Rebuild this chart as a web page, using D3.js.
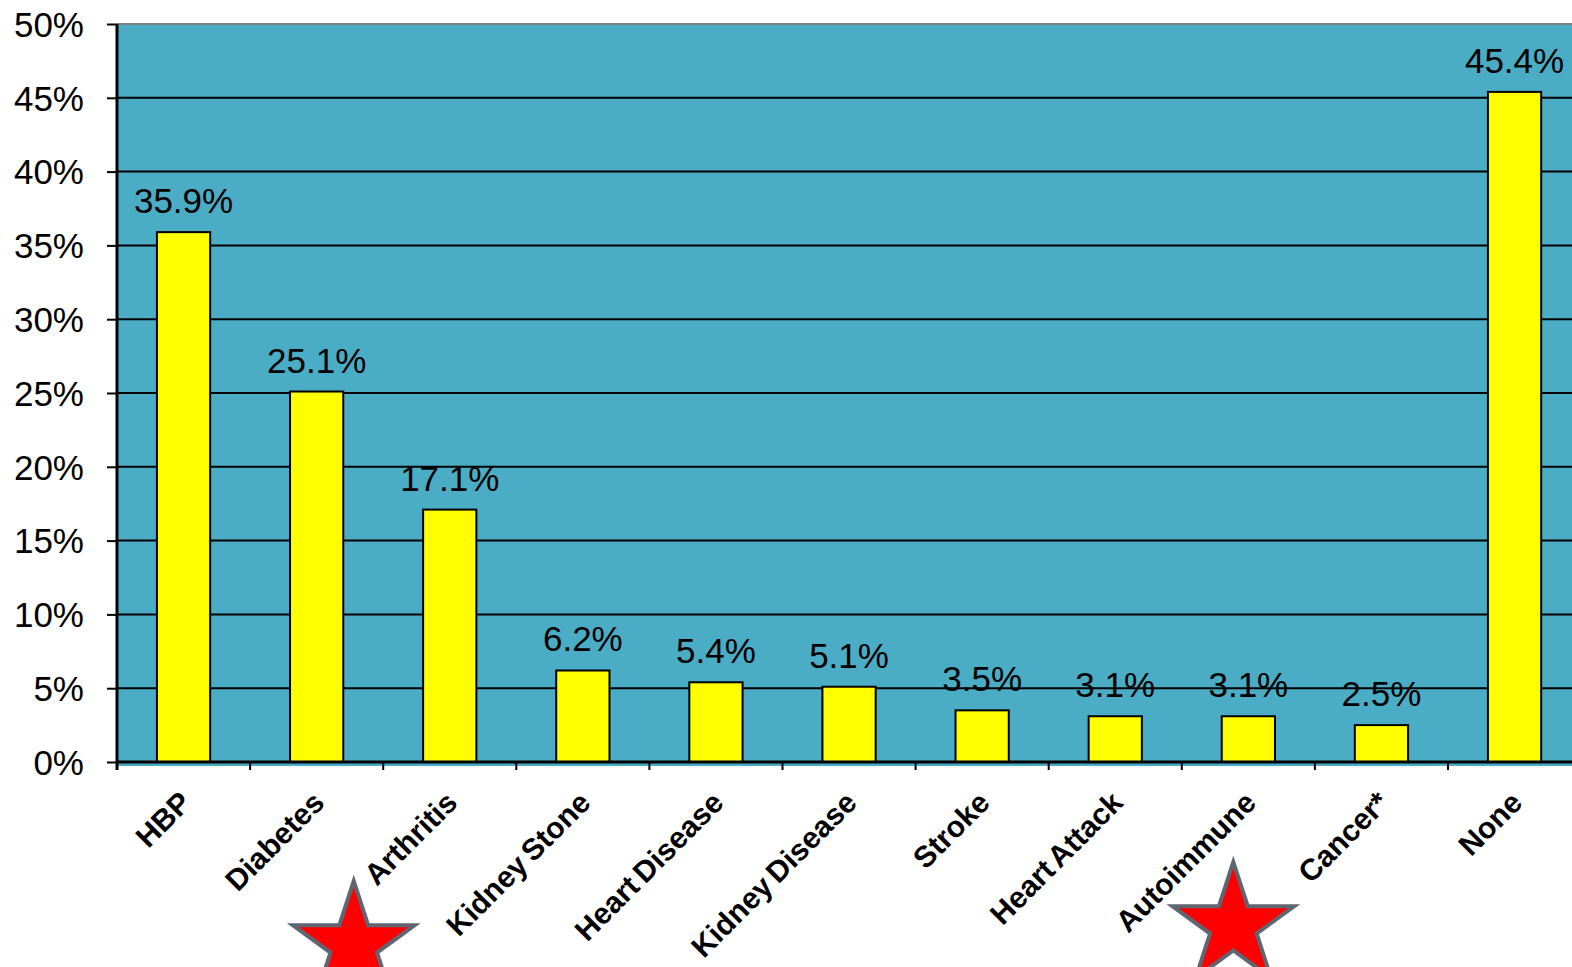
<!DOCTYPE html>
<html>
<head>
<meta charset="utf-8">
<script src="https://cdn.jsdelivr.net/npm/d3@7"></script>
<style>
  html, body { margin: 0; padding: 0; background: #fff; }
  svg { display: block; font-family: "Liberation Sans", Arial, sans-serif; }
</style>
</head>
<body>
<svg id="chart" width="1572" height="967"></svg>
<script>
// Share of respondents reporting each condition
const categories = ["HBP", "Diabetes", "Arthritis", "Kidney Stone", "Heart Disease",
  "Kidney Disease", "Stroke", "Heart Attack", "Autoimmune", "Cancer*", "None"];
const values = [35.9, 25.1, 17.1, 6.2, 5.4, 5.1, 3.5, 3.1, 3.1, 2.5, 45.4];
const yTicks = [0, 5, 10, 15, 20, 25, 30, 35, 40, 45, 50];
// Categories flagged with a star
const starred = ["Arthritis", "Autoimmune"];

const svg = d3.select("#chart");
const plotLeft = 117, plotTop = 24, zeroY = 762, plotBottom = 766;
const band = 133.1;
const plotRight = plotLeft + band * categories.length;

const x = d3.scaleBand()
  .domain(categories)
  .range([plotLeft, plotRight])
  .paddingInner(0.6).paddingOuter(0.3);

const y = d3.scaleLinear().domain([0, 50]).range([zeroY, plotTop]);

// plot area
svg.append("rect")
  .attr("x", plotLeft).attr("y", plotTop)
  .attr("width", plotRight - plotLeft).attr("height", plotBottom - plotTop)
  .attr("fill", "#4BACC6");

// gridlines
svg.append("g").selectAll("line")
  .data(yTicks.filter(t => t > 0 && t < 50))
  .join("line")
  .attr("x1", plotLeft).attr("x2", plotRight)
  .attr("y1", d => y(d)).attr("y2", d => y(d))
  .attr("stroke", "#000").attr("stroke-width", 2);

svg.append("line")
  .attr("x1", plotLeft).attr("x2", plotRight)
  .attr("y1", y(50)).attr("y2", y(50))
  .attr("stroke", "#808080").attr("stroke-width", 2);

// bars
svg.append("g").selectAll("rect")
  .data(values)
  .join("rect")
  .attr("x", (d, i) => x(categories[i]))
  .attr("width", x.bandwidth())
  .attr("y", d => y(d))
  .attr("height", d => zeroY - y(d))
  .attr("fill", "#FFFF00")
  .attr("stroke", "#000").attr("stroke-width", 2);

// value labels
svg.append("g").selectAll("text")
  .data(values)
  .join("text")
  .attr("x", (d, i) => x(categories[i]) + x.bandwidth() / 2)
  .attr("y", d => y(d) - 19)
  .attr("text-anchor", "middle")
  .attr("font-size", 35)
  .attr("fill", "#000")
  .text(d => d.toFixed(1) + "%");

// y axis
const yAxis = d3.axisLeft(y).tickValues(yTicks).tickSize(10).tickFormat(d => d + "%");
const gy = svg.append("g").attr("transform", `translate(${plotLeft},0)`).call(yAxis);
gy.select(".domain").remove();
gy.selectAll(".tick line").attr("stroke", "#000").attr("stroke-width", 2);
gy.selectAll(".tick text")
  .attr("x", -33).attr("dy", "0.35em")
  .attr("font-size", 35).attr("font-family", "Liberation Sans, Arial, sans-serif")
  .attr("fill", "#000");
svg.append("line")
  .attr("x1", plotLeft).attr("x2", plotLeft)
  .attr("y1", plotTop).attr("y2", 770)
  .attr("stroke", "#000").attr("stroke-width", 3);

// x axis line and tick marks between categories
svg.append("line")
  .attr("x1", plotLeft).attr("x2", plotRight)
  .attr("y1", zeroY).attr("y2", zeroY)
  .attr("stroke", "#000").attr("stroke-width", 3);
svg.append("g").selectAll("line")
  .data(d3.range(categories.length + 1))
  .join("line")
  .attr("x1", i => plotLeft + i * band).attr("x2", i => plotLeft + i * band)
  .attr("y1", zeroY).attr("y2", 770)
  .attr("stroke", "#000").attr("stroke-width", 2);

// rotated category labels
svg.append("g").selectAll("text")
  .data(categories)
  .join("text")
  .attr("transform", d => `translate(${x(d) + x.bandwidth() / 2 + 2},797) rotate(-45)`)
  .attr("text-anchor", "end")
  .attr("dominant-baseline", "central")
  .attr("font-size", 30)
  .attr("font-weight", "bold")
  .attr("word-spacing", -3)
  .attr("fill", "#000")
  .text(d => d);

// five-pointed star marker
function starPath(cx, cy, R, r) {
  const pts = [];
  for (let k = 0; k < 10; k++) {
    const a = -Math.PI / 2 + k * Math.PI / 5;
    const rad = k % 2 === 0 ? R : r;
    pts.push([cx + rad * Math.cos(a), cy + rad * Math.sin(a)]);
  }
  return d3.line()(pts) + "Z";
}
const starPos = { "Arthritis": [-96, 945], "Autoimmune": [-15, 926] };
svg.append("g").selectAll("path")
  .data(starred)
  .join("path")
  .attr("d", d => starPath(x(d) + x.bandwidth() / 2 + starPos[d][0], starPos[d][1], 64, 24.5))
  .attr("fill", "#FF0000")
  .attr("stroke", "#5F6672").attr("stroke-width", 4)
  .attr("stroke-linejoin", "miter");
</script>
</body>
</html>
